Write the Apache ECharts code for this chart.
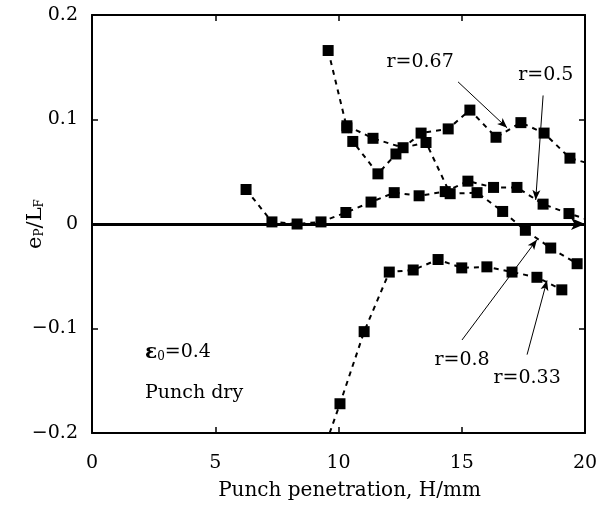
<!DOCTYPE html>
<html><head><meta charset="utf-8">
<script src="https://cdn.jsdelivr.net/npm/echarts@6/dist/echarts.min.js"></script>
<style>html,body{margin:0;padding:0;background:#fff}#c{width:602px;height:511px}</style>
</head><body><div id="c"></div>
<script>
// Axis ranges / ticks
const xMin = 0, xMax = 20, xStep = 5;
const yMin = -0.2, yMax = 0.2, yStep = 0.1;

// Series (H/mm, eP/LF); points on the frame (x=20 or y=-0.2) are line ends only
const r067 = [[9.58,0.166],[10.34,0.092],[10.58,0.079],[11.60,0.048],[12.33,0.067],[13.35,0.087],[14.45,0.091],[15.33,0.109],[16.39,0.083],[17.40,0.097],[18.34,0.087],[19.39,0.063],[20,0.059]];
const r08  = [[10.34,0.094],[11.40,0.082],[12.62,0.073],[13.55,0.078],[14.53,0.029],[15.62,0.030],[16.66,0.012],[17.58,-0.006],[18.61,-0.023],[19.68,-0.038],[20,-0.040]];
const r05  = [[6.25,0.033],[7.30,0.002],[8.32,0.0],[9.29,0.002],[10.30,0.011],[11.32,0.021],[12.26,0.030],[13.27,0.027],[14.33,0.031],[15.25,0.041],[16.29,0.035],[17.24,0.035],[18.30,0.019],[19.35,0.010],[20,0.005]];
const r033 = [[9.64,-0.2],[10.06,-0.172],[11.04,-0.103],[12.06,-0.046],[13.03,-0.044],[14.04,-0.034],[15.00,-0.042],[16.02,-0.041],[17.04,-0.046],[18.05,-0.051],[19.06,-0.063]];

// Annotations: label text, label position, arrow start, arrow end (data coords)
const annLabels = [
  {text:'r=0.67', pos:[13.31,0.155]},
  {text:'r=0.5',  pos:[18.41,0.143]},
  {text:'r=0.8',  pos:[15.01,-0.130]},
  {text:'r=0.33', pos:[17.65,-0.147]}
];
const annArrows = [
  [[14.85,0.136],[16.84,0.092]],
  [[18.30,0.123],[18.0,0.023]],
  [[15.01,-0.111],[18.05,-0.015]],
  [[17.65,-0.125],[18.46,-0.054]]
];
const condText1Pos = [2.15,-0.123];
const condText2Pos = [2.15,-0.162];

const FONT = 'DejaVu Serif';
const chart = echarts.init(document.getElementById('c'));

function minus(v){
  if (Math.abs(v) < 1e-9) return '0';
  const s = (Math.round(v*10)/10).toString();
  return v < 0 ? '\u2212' + s.slice(1) : s;
}

const onFrame = d => d[0] >= xMax || d[1] <= yMin;
const lineSeries = (name, data) => ({
  name, type:'line', xAxisIndex:0, yAxisIndex:0,
  data: data.map(d => onFrame(d) ? {value:d, symbol:'none'} : d),
  symbol:'rect', symbolSize:11, showSymbol:true, clip:true,
  itemStyle:{color:'#000'},
  lineStyle:{color:'#000', width:2, type:[5,5]},
  z:3
});

const axisCommon = {
  axisLine:{show:true, onZero:false, lineStyle:{color:'#000', width:2}},
  axisTick:{inside:true, length:6, lineStyle:{color:'#000', width:1.5}},
  splitLine:{show:false}
};

const opt = {
  animation:false,
  backgroundColor:'#fff',
  grid:{left:92, right:17, top:15, bottom:78, containLabel:false, outerBoundsMode:'none'},
  xAxis:[Object.assign({
    type:'value', min:xMin, max:xMax, interval:xStep, position:'bottom',
    axisLabel:{fontFamily:FONT, fontSize:19, color:'#000', margin:21},
    name:'Punch penetration, H/mm', nameLocation:'middle', nameGap:48, nameMoveOverlap:false,
    nameTextStyle:{fontFamily:FONT, fontSize:20, color:'#000', padding:[0,0,0,22]}
  }, axisCommon),
  Object.assign({
    type:'value', min:xMin, max:xMax, interval:xStep, position:'top',
    axisLabel:{show:false}
  }, axisCommon)],
  yAxis:[Object.assign({
    type:'value', min:yMin, max:yMax, interval:yStep, position:'left',
    axisLabel:{fontFamily:FONT, fontSize:19, color:'#000', margin:14, formatter:minus},
    name:'{n|e}{s|P}{n|/L}{s|F}', nameLocation:'middle', nameGap:46, nameRotate:90, nameMoveOverlap:false,
    nameTextStyle:{rich:{n:{fontFamily:FONT, fontSize:21, color:'#000'}, s:{fontFamily:FONT, fontSize:12, color:'#000', verticalAlign:'bottom', padding:[7,0,0,0]}}}
  }, axisCommon),
  Object.assign({
    type:'value', min:yMin, max:yMax, interval:yStep, position:'right',
    axisLabel:{show:false}
  }, axisCommon)],
  series:[
    // zero line with arrow
    {type:'line', data:[], xAxisIndex:0, yAxisIndex:0,
      markLine:{silent:true, symbol:['none','arrow'], symbolSize:[9,14],
        label:{show:false},
        lineStyle:{color:'#000', width:3, type:'solid'},
        data:[{yAxis:0}]}, z:2},
    lineSeries('r=0.67', r067),
    lineSeries('r=0.8', r08),
    lineSeries('r=0.5', r05),
    lineSeries('r=0.33', r033),
    // annotations
    {type:'line', data:[], xAxisIndex:0, yAxisIndex:0,
      markLine:{silent:true, symbol:['none','arrow'], symbolSize:[6,10],
        label:{show:false},
        lineStyle:{color:'#000', width:1, type:'solid'},
        data: annArrows.map(a => [{coord:a[0]},{coord:a[1]}])},
      markPoint:{silent:true, symbol:'rect', symbolSize:0,
        label:{show:true, fontFamily:FONT, fontSize:19, color:'#000', position:'inside'},
        data: annLabels.map(l => ({coord:l.pos, value:l.text, label:{formatter:l.text}}))
          .concat([
            {coord:condText1Pos, label:{position:'right', distance:0, formatter:'{e|ε}{s|0}{n|=0.4}', rich:{
              e:{fontFamily:FONT, fontSize:20, fontWeight:'bold', color:'#000'},
              s:{fontFamily:FONT, fontSize:12, color:'#000', verticalAlign:'bottom', padding:[7,0,0,0]},
              n:{fontFamily:FONT, fontSize:19, color:'#000'}}}},
            {coord:condText2Pos, label:{position:'right', distance:0, formatter:'Punch dry'}}
          ])
      }, z:4}
  ]
};
chart.setOption(opt);
</script>
</body></html>
